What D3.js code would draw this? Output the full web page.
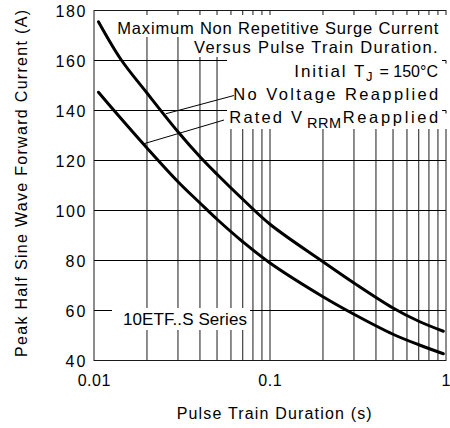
<!DOCTYPE html>
<html><head><meta charset="utf-8">
<script src="https://cdn.jsdelivr.net/npm/d3@7"></script>
<style>
body{margin:0;background:#fff;}
svg{display:block;}
text{font-family:"Liberation Sans",Arial,Helvetica,sans-serif;fill:#000;}
</style>
</head><body>
<svg id="chart" width="450" height="428"></svg>
<script>
// ---- data ----
const xDomain = [0.01, 1];
const yDomain = [40, 180];
const xTickValues = [0.01, 0.1, 1];
const xTickLabels = ["0.01", "0.1", "1"];
const yTickValues = [40, 60, 80, 100, 120, 140, 160, 180];
const yTickLabels = ["40", "60", "80", "100", "120", "140", "160", "180"];
const xGridValues = [0.02,0.03,0.04,0.05,0.06,0.07,0.08,0.09,0.1,0.2,0.3,0.4,0.5,0.6,0.7,0.8,0.9];

// Curve: No Voltage Reapplied
const noVoltageT = [0.0106,0.0142,0.02,0.03,0.04,0.05,0.07,0.1,0.2,0.3,0.5,0.7,0.966];
const noVoltageI = [175.5,160.5,147,131.5,121.5,114.5,104.5,94.5,79.5,71,61,55.7,51.7];
// Curve: Rated VRRM Reapplied
const ratedT = [0.0106,0.013,0.02,0.03,0.04,0.05,0.07,0.1,0.2,0.3,0.5,0.7,0.966];
const ratedI = [147.3,140,125,111.5,103,96.5,87.5,79,65.5,58.5,50.5,46.3,42.7];

// leader lines (data coordinates)
const leaderNoVoltage = [[0.0256,138.7],[0.0624,146]];
const leaderRated = [[0.0192,126.7],[0.0548,136.2]];

const xTitle = "Pulse Train Duration (s)";
const yTitle = "Peak Half Sine Wave Forward Current (A)";
const seriesLabel = "10ETF..S Series";

// ---- layout ----
const svg = d3.select("#chart");
const L = 94, R = 446, T = 10.5, B = 360.5;
const x = d3.scaleLog().domain(xDomain).range([L, R]);
const y = d3.scaleLinear().domain(yDomain).range([B, T]);

// grid
const g = svg.append("g");
g.selectAll("line.vg").data(xGridValues).enter().append("line")
  .attr("x1", d => x(d)).attr("x2", d => x(d)).attr("y1", T).attr("y2", B)
  .attr("stroke", "#1a1a1a").attr("stroke-width", 1);
g.selectAll("line.hg").data(yTickValues).enter().append("line")
  .attr("x1", L).attr("x2", R).attr("y1", d => y(d)).attr("y2", d => y(d))
  .attr("stroke", "#000").attr("stroke-width", 1);
// frame
svg.append("rect").attr("x", L).attr("y", T).attr("width", R - L).attr("height", B - T)
  .attr("fill", "none").attr("stroke", "#1a1a1a").attr("stroke-width", 1);

// white label backgrounds
const boxes = [
  [115, 15, 333, 22],
  [192, 37, 256, 20],
  [227, 57, 221, 72],
  [112, 308, 138, 22]
];
svg.selectAll("rect.bg").data(boxes).enter().append("rect")
  .attr("x", d => d[0]).attr("y", d => d[1]).attr("width", d => d[2]).attr("height", d => d[3])
  .attr("fill", "#fff");
// small stubs at right edge
[y(160), y(140)].forEach(v => {
  svg.append("line").attr("x1", R - 4).attr("x2", R).attr("y1", v).attr("y2", v).attr("stroke", "#000");
  svg.append("line").attr("x1", R).attr("x2", R).attr("y1", v).attr("y2", v + 3).attr("stroke", "#000");
});

// y tick labels
svg.selectAll("text.yt").data(yTickValues).enter().append("text")
  .attr("x", 85.5).attr("y", d => y(d) + 6.5)
  .attr("text-anchor", "end").attr("font-size", 16)
  .attr("textLength", (d, i) => yTickLabels[i].length * 10).attr("lengthAdjust", "spacing")
  .text((d, i) => yTickLabels[i]);
// x tick labels
const xLabW = {"0.01": 32.7, "0.1": 23.3, "1": 8.9};
svg.selectAll("text.xt").data(xTickValues).enter().append("text")
  .attr("x", d => x(d)).attr("y", 385.7)
  .attr("text-anchor", "middle").attr("font-size", 16)
  .attr("textLength", (d, i) => xLabW[xTickLabels[i]]).attr("lengthAdjust", "spacing")
  .text((d, i) => xTickLabels[i]);

// axis titles
svg.append("text").attr("x", 176.7).attr("y", 419).attr("font-size", 16)
  .attr("textLength", 195).attr("lengthAdjust", "spacing").text(xTitle);
svg.append("text").attr("transform", "translate(26.7,183.5) rotate(-90)")
  .attr("text-anchor", "middle").attr("font-size", 16)
  .attr("textLength", 347).attr("lengthAdjust", "spacing").text(yTitle);

// annotations
function seg(txt, x0, base, w, fs) {
  const t = svg.append("text").attr("x", x0).attr("y", base).attr("font-size", fs).text(txt);
  if (w) t.attr("textLength", w).attr("lengthAdjust", "spacing");
}
seg("Maximum Non Repetitive Surge Current", 117.3, 34, 321, 16.5);
seg("Versus Pulse Train Duration.", 194, 52.7, 243.5, 16.5);
seg("Initial T", 294.3, 77.3, 70, 17);
seg("J", 366, 80.7, null, 13);
seg("= 150°C", 379.5, 77.3, null, 16);
seg("No Voltage Reapplied", 233.3, 100, 205, 16.5);
seg("Rated V", 229.3, 123.3, 72.7, 16.5);
seg("RRM", 307, 128.3, 34, 14.5);
seg("Reapplied", 342.7, 123.3, 95.6, 16.5);
seg(seriesLabel, 123, 325, 124, 17);

// curves
const line = d3.line().x(d => x(d[0])).y(d => y(d[1])).curve(d3.curveCatmullRom.alpha(0.5));
const upper = noVoltageT.map((t, i) => [t, noVoltageI[i]]);
const lower = ratedT.map((t, i) => [t, ratedI[i]]);
[upper, lower].forEach(s => {
  svg.append("path").attr("d", line(s)).attr("fill", "none")
    .attr("stroke", "#000").attr("stroke-width", 3).attr("stroke-linecap", "round");
});

// leaders
const lline = d3.line().x(d => x(d[0])).y(d => y(d[1]));
[leaderNoVoltage, leaderRated].forEach(s => {
  svg.append("path").attr("d", lline(s)).attr("fill", "none").attr("stroke", "#000").attr("stroke-width", 1);
});
</script>
</body></html>
